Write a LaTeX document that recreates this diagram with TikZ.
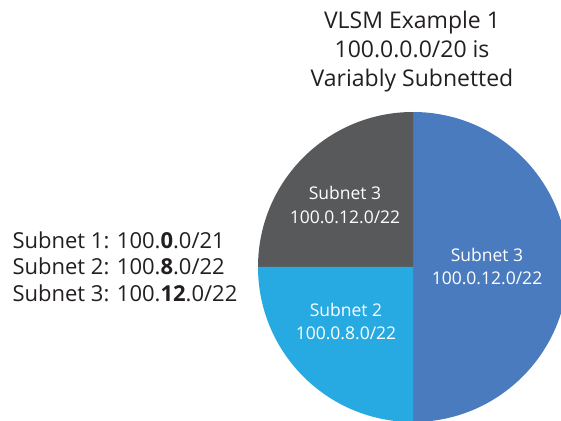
\documentclass[tikz,border=0pt]{standalone}
\usepackage{fontspec}
\setmainfont{Open Sans}
\definecolor{slicedark}{HTML}{58595B}
\definecolor{slicelight}{HTML}{27AAE1}
\definecolor{sliceblue}{HTML}{4A7BBF}
\definecolor{txt}{HTML}{231F20}
\tikzset{
  title/.style={text=txt, font=\fontsize{23}{29}\selectfont, align=center},
  legend/.style={text=txt, font=\fontsize{22}{26.5}\selectfont, align=left, anchor=west},
  slicelabel/.style={text=white, font=\fontsize{17.5}{23.5}\selectfont, align=center},
}
\begin{document}
\begin{tikzpicture}[x=1pt,y=1pt]
\useasboundingbox (0,0) rectangle (561,420);
\begin{scope}
\clip (0,0) rectangle (561,420);
\fill[sliceblue] (413,153) -- (413,308) arc[start angle=90, end angle=-90, radius=155] -- cycle;
\fill[slicedark] (413,153) -- (413,308) arc[start angle=90, end angle=180, radius=155] -- cycle;
\fill[slicelight] (413,153) -- (258,153) arc[start angle=180, end angle=270, radius=155] -- cycle;
\end{scope}
\node[title] (ttl) at (412,368.5) {VLSM Example 1\\100.0.0.0/20 is\\Variably Subnetted};
\node[legend] (lgd) at (9,153.5) {Subnet 1: 100.\textbf{0}.0/21\\Subnet 2: 100.\textbf{8}.0/22\\Subnet 3: 100.\textbf{12}.0/22};
\node[slicelabel] (s3a) at (345,215) {Subnet 3\\100.0.12.0/22};
\node[slicelabel] (s3b) at (487,153.5) {Subnet 3\\100.0.12.0/22};
\node[slicelabel] (s2) at (346,98.5) {Subnet 2\\100.0.8.0/22};
\end{tikzpicture}
\end{document}
